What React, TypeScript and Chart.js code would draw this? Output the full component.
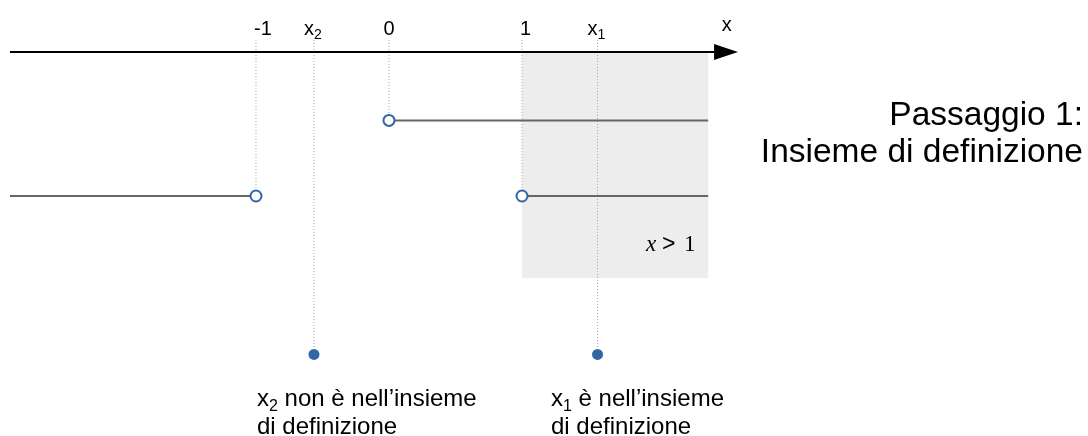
import React, { useEffect, useRef } from "react";
import { Chart, registerables } from "chart.js";

Chart.register(...registerables);

// ---- data ----
const X_RANGE = [-2.9248, 5.2557];
const Y_RANGE = [-5.333, 0.7222];
const TICK_VALUES = [-1, -0.564, 0, 1, 1.568];
const TICK_MAIN = ["-1", "x", "0", "1", "x"];
const TICK_SUB = ["", "2", "", "", "1"];
const AXIS_START = -2.85;
const AXIS_BASE = 2.444;
const AXIS_TIP = 2.624;
const AXIS_NAME = "x";
const AXIS_NAME_AT = 2.54;
const GUIDE_TOP = 0.167;
const GUIDE_ENDS = [-2, -4.2, -0.95, -2, -4.2];
const SHADE_X = [1, 2.4];
const SHADE_Y = [0, -3.14];
const UPPER_RAY_X = [0, 2.4];
const UPPER_RAY_Y = -0.95;
const LOWER_LEFT_X = [-2.85, -1];
const LOWER_RIGHT_X = [1, 2.4];
const LOWER_RAY_Y = -2;
const ROOTS = [-0.564, 1.568];
const ROOT_Y = -4.2;
const TITLE_LINES = ["Passaggio 1:", "Insieme di definizione"];
const ROOT_NOTES = [
  ["x", "2", " non è nell\u2019insieme", "di definizione"],
  ["x", "1", " è nell\u2019insieme", "di definizione"],
];

const BLUE = "#3465a4";
const SANS = "'Liberation Sans', Arial, sans-serif";
const SERIF = "'Liberation Serif', 'Times New Roman', serif";

const drawPlugin = {
  id: "diagram",
  beforeDatasetsDraw(chart: any) {
    const { ctx, scales } = chart;
    const xs = scales.x, ys = scales.y;
    ctx.save();
    ctx.fillStyle = "#ededed";
    const x0 = xs.getPixelForValue(SHADE_X[0]);
    const x1 = xs.getPixelForValue(SHADE_X[1]);
    const y0 = ys.getPixelForValue(SHADE_Y[0]);
    const y1 = ys.getPixelForValue(SHADE_Y[1]);
    ctx.fillRect(x0, y0, x1 - x0, y1 - y0);
    ctx.restore();
  },
  afterDatasetsDraw(chart: any) {
    const { ctx, scales } = chart;
    const xs = scales.x, ys = scales.y;
    ctx.save();
    // arrow head
    const ay = ys.getPixelForValue(0);
    const bx = xs.getPixelForValue(AXIS_BASE);
    const tx = xs.getPixelForValue(AXIS_TIP);
    ctx.fillStyle = "#000";
    ctx.beginPath();
    ctx.moveTo(bx, ay - 8);
    ctx.lineTo(tx, ay);
    ctx.lineTo(bx, ay + 8);
    ctx.closePath();
    ctx.fill();

    // tick labels
    ctx.fillStyle = "#000";
    ctx.textBaseline = "alphabetic";
    const baseY = 35;
    TICK_VALUES.forEach((v, i) => {
      const px = xs.getPixelForValue(v);
      const main = TICK_MAIN[i];
      const sub = TICK_SUB[i];
      ctx.font = `20px ${SANS}`;
      if (sub) {
        ctx.textAlign = "left";
        const left = px - 10;
        ctx.fillText(main, left, baseY);
        const w = ctx.measureText(main).width;
        ctx.font = `14px ${SANS}`;
        ctx.fillText(sub, left + w, baseY + 4);
      } else if (main === "0") {
        ctx.textAlign = "center";
        ctx.fillText(main, px, baseY);
      } else {
        ctx.textAlign = "left";
        ctx.fillText(main, px - 2, baseY);
      }
    });
    ctx.font = `20px ${SANS}`;
    ctx.textAlign = "center";
    ctx.fillText(AXIS_NAME, xs.getPixelForValue(AXIS_NAME_AT), 31);

    // x > 1
    ctx.textAlign = "left";
    ctx.font = `italic 23px ${SERIF}`;
    ctx.fillText("x", 646, 251);
    ctx.font = `23px ${SANS}`;
    ctx.fillText(">", 662, 251);
    ctx.font = `23px ${SERIF}`;
    ctx.fillText("1", 684, 251);

    // title
    ctx.textAlign = "right";
    ctx.font = `33.5px ${SANS}`;
    ctx.fillText(TITLE_LINES[0], 1083, 125);
    ctx.fillText(TITLE_LINES[1], 1083, 162);

    // root notes
    const noteLeft = [257, 551];
    ROOT_NOTES.forEach((n, i) => {
      ctx.textAlign = "left";
      let x = noteLeft[i];
      ctx.font = `24px ${SANS}`;
      ctx.fillText(n[0], x, 406);
      x += ctx.measureText(n[0]).width;
      ctx.font = `16px ${SANS}`;
      ctx.fillText(n[1], x, 411);
      x += ctx.measureText(n[1]).width;
      ctx.font = `24px ${SANS}`;
      ctx.fillText(n[2], x, 406);
      ctx.fillText(n[3], noteLeft[i], 434);
    });
    ctx.restore();
  },
};

export default function App() {
  const ref = useRef<HTMLCanvasElement>(null);
  useEffect(() => {
    if (!ref.current) return;
    const guides = TICK_VALUES.map((v, i) => ({
      data: [
        { x: v, y: GUIDE_TOP },
        { x: v, y: GUIDE_ENDS[i] },
      ],
      showLine: true,
      borderColor: "#a8a8a8",
      borderWidth: 1,
      borderDash: [1, 2],
      pointRadius: 0,
      order: 6,
    }));
    const ray = (xr: number[], y: number, circleFirst: boolean, circleLast: boolean) => ({
      data: [
        { x: xr[0], y },
        { x: xr[1], y },
      ],
      showLine: true,
      borderColor: "#666666",
      borderWidth: 2,
      pointRadius: [circleFirst ? 5.5 : 0, circleLast ? 5.5 : 0],
      pointBorderWidth: 2,
      pointBorderColor: BLUE,
      pointBackgroundColor: "#ffffff",
      order: 3,
    });
    const chart = new Chart(ref.current, {
      type: "scatter",
      data: {
        datasets: [
          ...guides,
          {
            data: [
              { x: AXIS_START, y: 0 },
              { x: AXIS_BASE, y: 0 },
            ],
            showLine: true,
            borderColor: "#000000",
            borderWidth: 2,
            pointRadius: 0,
            order: 4,
          },
          ray(UPPER_RAY_X, UPPER_RAY_Y, true, false),
          ray(LOWER_LEFT_X, LOWER_RAY_Y, false, true),
          ray(LOWER_RIGHT_X, LOWER_RAY_Y, true, false),
          {
            data: ROOTS.map((x) => ({ x, y: ROOT_Y })),
            showLine: false,
            pointRadius: 5.5,
            pointBackgroundColor: BLUE,
            pointBorderColor: BLUE,
            pointBorderWidth: 0,
            order: 1,
          },
        ] as any,
      },
      options: {
        animation: false,
        responsive: false,
        devicePixelRatio: 1,
        layout: { padding: 0, autoPadding: false },
        plugins: { legend: { display: false }, tooltip: { enabled: false } },
        scales: {
          x: { type: "linear", display: false, min: X_RANGE[0], max: X_RANGE[1] },
          y: { type: "linear", display: false, min: Y_RANGE[0], max: Y_RANGE[1] },
        },
      },
      plugins: [drawPlugin],
    });
    return () => chart.destroy();
  }, []);
  return (
    <div style={{ position: "fixed", left: 0, top: 0, width: 1088, height: 436, background: "#fff" }}>
      <canvas ref={ref} width={1088} height={436} style={{ display: "block" }} />
    </div>
  );
}
